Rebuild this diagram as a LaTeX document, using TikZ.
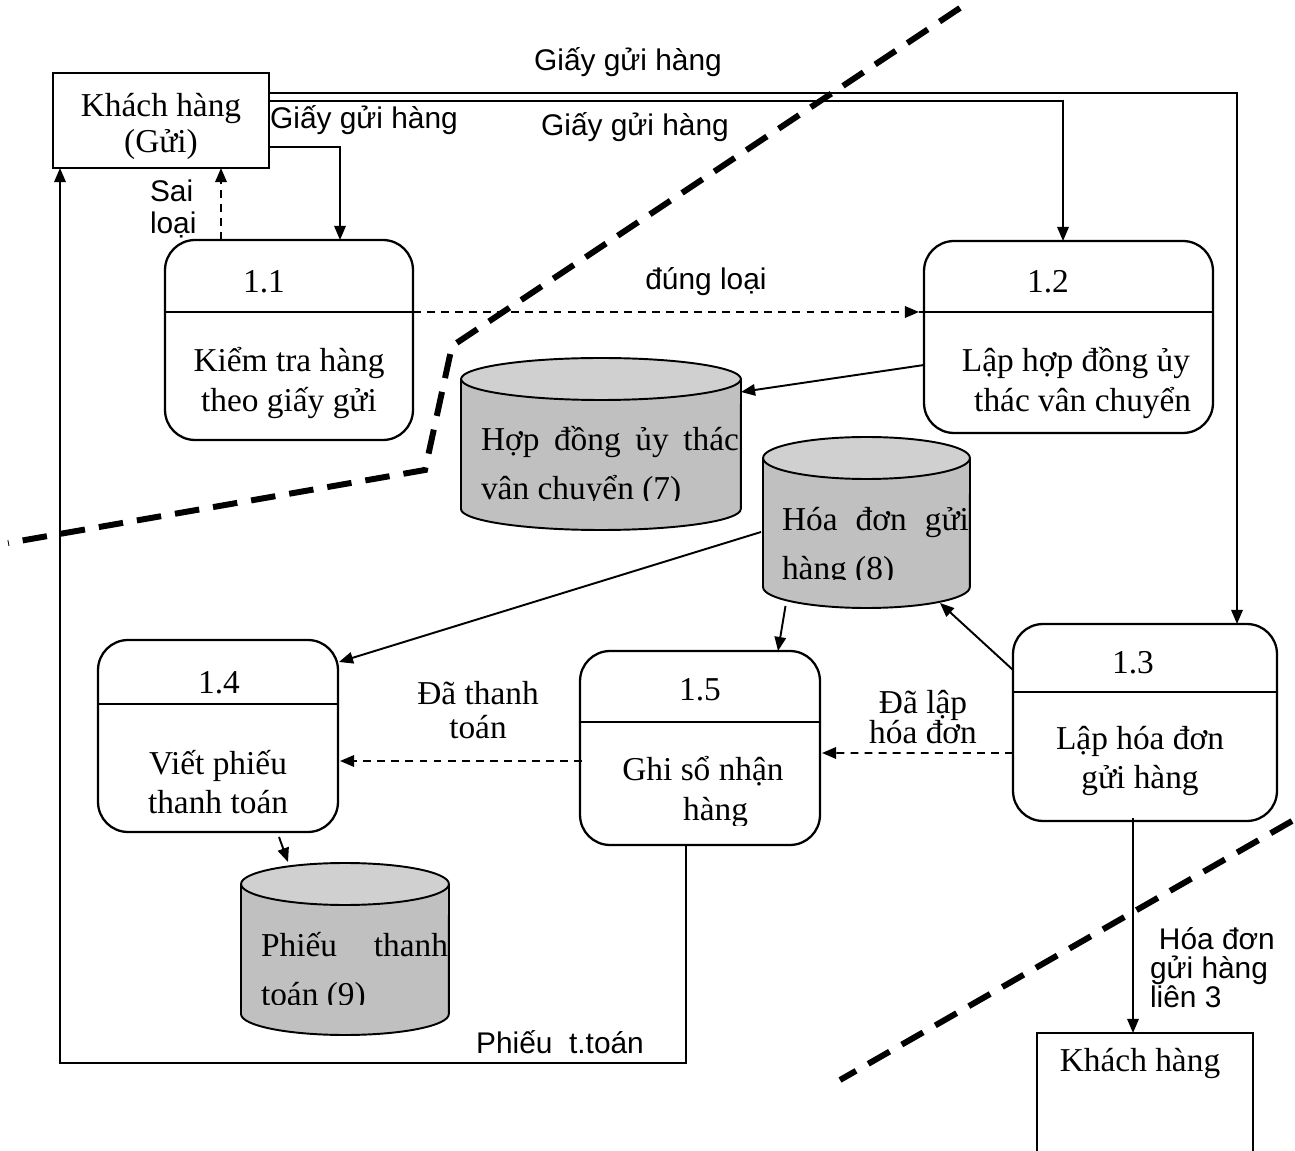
\documentclass[tikz,border=0pt]{standalone}
\usepackage{fontspec}
\setmainfont{Liberation Serif}
\setsansfont{Liberation Sans}
\usetikzlibrary{arrows.meta,calc}

\definecolor{storebody}{HTML}{C0C0C0}
\definecolor{storetop}{HTML}{D0D0D0}

\tikzset{
  every node/.style={inner sep=0pt, outer sep=0pt},
  ent/.style={draw, line width=1.15pt, rectangle},
  proc/.style={draw, line width=1.3pt, rectangle, rounded corners=0.6cm},
  area/.style={draw=none, rectangle},
  divider/.style={line width=1.3pt},
  boxtxt/.style={font=\fontsize{19}{22.5}\selectfont, align=center},
  numtxt/.style={font=\fontsize{19}{22}\selectfont},
  storetxt/.style={font=\fontsize{19}{22}\selectfont},
  lbl/.style={font=\sffamily\fontsize{17}{18}\selectfont},
  flowtxt/.style={font=\fontsize{19}{19.5}\selectfont, align=center},
  flow/.style={line width=1.1pt, -{Triangle[length=8pt,width=6.5pt]}},
  dflow/.style={flow, dash pattern=on 4.5pt off 3.5pt},
  border/.style={line width=3.4pt, dash pattern=on 14pt off 8pt},
}

% data store: name, left, right, top, bottom (picture units)
\newcommand\dfdstore[5]{%
  \node[area, minimum width={(#3-#2)*0.02cm}, minimum height={(#5-#4)*0.02cm}]
    (#1) at ({(#2+#3)/2},{(#4+#5)/2}) {};
  \path[draw, fill=storebody, line width=1.1pt]
    (#2,#4+21) -- (#2,#5-21)
    arc[start angle=180, end angle=360, x radius={(#3-#2)*0.01cm}, y radius=0.42cm]
    -- (#3,#4+21);
  \path[draw, fill=storetop, line width=1.1pt]
    ({(#2+#3)/2},#4+21) ellipse[x radius={(#3-#2)*0.01cm}, y radius=0.42cm];
}

\begin{document}
\begin{tikzpicture}[x=0.02cm, y=-0.02cm]
\useasboundingbox (0,0) rectangle (1295,1151);

% system boundaries
\draw[border] (960,8) -- (452,346) -- (425,470) -- (8,543);
\draw[border] (1292,821) -- (840,1080);

% external entities
\node[ent, minimum width=4.32cm, minimum height=1.9cm] (kgui) at (161,120.5) {};
\node[font=\fontsize{19}{20.5}\selectfont, align=center] (kguitxt) at (161,126)
  {Khách hàng\\(Gửi)};
\node[ent, minimum width=4.32cm, minimum height=2.52cm] (kh) at (1145,1096) {};
\node[boxtxt] (khtxt) at (1140,1063) {Khách hàng};

% processes
\node[proc, minimum width=4.96cm, minimum height=4cm] (p11) at (289,340) {};
\draw[divider] (p11.west |- 0,312) -- (p11.east |- 0,312);
\node[numtxt] (n11) at (264,282) {1.1};
\node[boxtxt] (t11) at (289,383) {Kiểm tra hàng\\theo giấy gửi};

\node[proc, minimum width=5.78cm, minimum height=3.84cm] (p12) at (1068.5,337) {};
\draw[divider] ($(p12.west)+(-5,-25)$) -- ($(p12.east)+(0,-25)$);
\node[numtxt] (n12) at (1048,282) {1.2};
\node[boxtxt] (t12) at (1076,383) {Lập hợp đồng ủy\\\hspace*{0.4em}thác vân chuyển};

\node[proc, minimum width=5.28cm, minimum height=3.94cm] (p13) at (1145,722.5) {};
\draw[divider] (p13.west |- 0,692) -- (p13.east |- 0,692);
\node[numtxt] (n13) at (1133,663) {1.3};
\node[boxtxt] (t13) at (1140,761) {Lập hóa đơn\\gửi hàng};

\node[proc, minimum width=4.8cm, minimum height=3.84cm] (p14) at (218,736) {};
\draw[divider] (p14.west |- 0,704) -- (p14.east |- 0,704);
\node[numtxt] (n14) at (219,683) {1.4};
\node[boxtxt] (t14) at (218,782) {Viết phiếu\\thanh toán};

\node[proc, minimum width=4.8cm, minimum height=3.88cm] (p15) at (700,748) {};
\draw[divider] (p15.west |- 0,722) -- (p15.east |- 0,722);
\node[numtxt] (n15) at (700,690) {1.5};
\begin{scope}
  \clip (585,740) rectangle (815,825);
  \node[boxtxt] (t15) at (703,792) {Ghi sổ nhận\\\hspace*{0.75em}hàng};
\end{scope}

% data stores
\dfdstore{c7}{461}{741}{358}{530}
\dfdstore{c8}{763}{970}{437}{608}
\dfdstore{c9}{241}{449}{863}{1035}

\begin{scope}
  \clip (462,400) rectangle (740,501);
  \node[storetxt, anchor=base west] (c7a) at (481,451) {\makebox[5.16cm][s]{Hợp đồng ủy thác}};
  \node[storetxt, anchor=base west] (c7b) at (481,500) {vân chuyển (7)};
\end{scope}
\begin{scope}
  \clip (764,480) rectangle (969,580);
  \node[storetxt, anchor=base west] (c8a) at (782,531) {\makebox[3.74cm][s]{Hóa đơn gửi}};
  \node[storetxt, anchor=base west] (c8b) at (782,580) {hàng (8)};
\end{scope}
\begin{scope}
  \clip (242,905) rectangle (448,1004);
  \node[storetxt, anchor=base west] (c9a) at (261,956) {\makebox[3.74cm][s]{Phiếu thanh}};
  \node[storetxt, anchor=base west] (c9b) at (261,1005) {toán (9)};
\end{scope}

% data flows
\draw[flow] (kgui.east) ++(0,-27.5) -| ($(p13.north)+(92,0)$);
\draw[flow] (kgui.east) ++(0,-19.5) -| ($(p12.north)+(-5.5,0)$);
\draw[flow] (kgui.east) ++(0,26.5) -| ($(p11.north)+(51,0)$);
\draw[dflow] ($(p11.north)+(-68,0)$) -- ($(kgui.south)+(60,0)$);
\draw[dflow] ($(p11.east)+(0,-28)$) -- ($(p12.west)+(-5,-25)$);
\draw[flow] ($(p12.west)+(0,28)$) -- ($(c7.east)+(0,-52)$);
\draw[flow] ($(c8.west)+(-2,9.5)$) -- ($(p14.east)+(1,-74)$);
\draw[flow] ($(c8.south)+(-81,-2)$) -- ($(p15.north)+(78,0)$);
\draw[flow] ($(p13.west)+(0,-52.5)$) -- ($(c8.south)+(73.5,-5)$);
\draw[dflow] ($(p13.west)+(0,30.5)$) -- ($(p15.east)+(2,5)$);
\draw[dflow] ($(p15.west)+(2,13)$) -- ($(p14.east)+(2,25)$);
\draw[flow] ($(p14.south)+(61,5)$) -- ($(c9.north)+(-57,-1)$);
\coordinate (loopcorner) at (60,1063);
\draw[flow] ($(p15.south)+(-14,0)$) |- (loopcorner) -- (kgui.south -| loopcorner);
\draw[flow] ($(p13.south)+(-12,-3)$) -- ($(kh.north)+(-12,0)$);

% flow labels
\node[lbl] (l1) at (628,62) {Giấy gửi hàng};
\node[lbl] (l2) at (635,127) {Giấy gửi hàng};
\node[lbl] (l3) at (364,120) {Giấy gửi hàng};
\node[lbl, align=left, anchor=west, font=\sffamily\fontsize{17}{18}\selectfont] (l4) at (150,209) {Sai\\loại};
\node[lbl] (l5) at (706,282) {đúng loại};
\node[flowtxt] (l6) at (478,710) {Đã thanh\\toán};
\node[flowtxt, font=\fontsize{19}{17.5}\selectfont] (l7) at (923,717) {Đã lập\\hóa đơn};
\node[lbl] (l8) at (560,1042) {Phiếu\ \ t.toán};
\node[lbl, align=left, anchor=west, font=\sffamily\fontsize{17}{16.5}\selectfont] (l9) at (1150,968)
  {\hspace*{0.3em}Hóa đơn\\gửi hàng\\liên 3};
\end{tikzpicture}
\end{document}
